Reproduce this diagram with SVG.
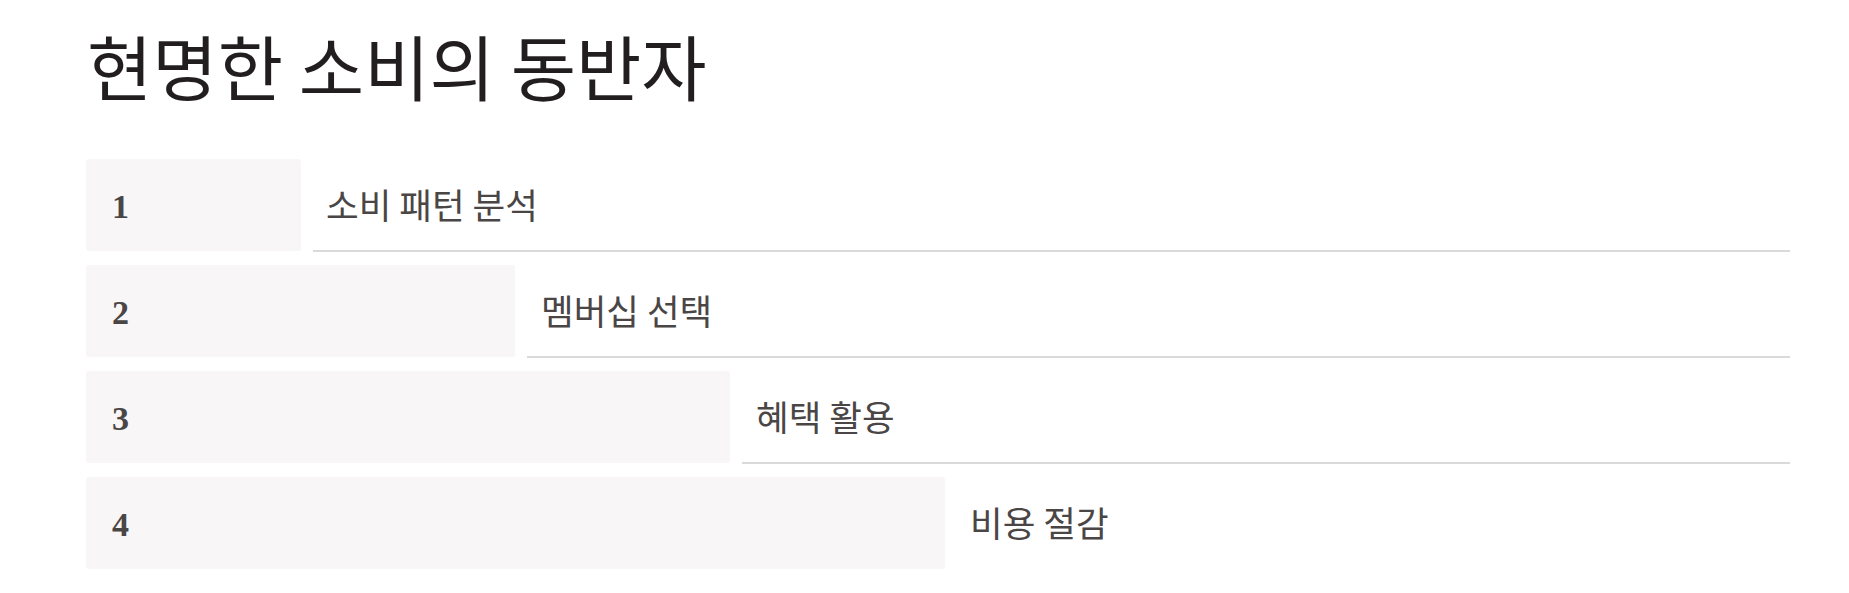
<svg xmlns="http://www.w3.org/2000/svg" width="1849" height="593" viewBox="0 0 1849 593">
  <style>
    .title { font-family: "Noto Sans CJK KR", "Noto Sans", sans-serif; font-size: 71px; font-weight: 400; fill: #221e1f; }
    .box { fill: #f8f6f6; }
    .num { font-family: "Liberation Serif", "DejaVu Serif", serif; font-size: 34px; font-weight: 700; fill: #4b4646; }
    .label { font-family: "Noto Sans CJK KR", "Noto Sans", sans-serif; font-size: 35.5px; font-weight: 400; fill: #4b4646; }
    .rule { stroke: #dadada; stroke-width: 2; }
  </style>
  <rect width="1849" height="593" fill="#ffffff"/>
  <text class="title" x="87" y="95">현명한 소비의 동반자</text>

  <g id="connectors">
    <line class="rule" x1="313" y1="251" x2="1790" y2="251"/>
    <line class="rule" x1="527" y1="357" x2="1790" y2="357"/>
    <line class="rule" x1="742" y1="463" x2="1790" y2="463"/>
  </g>

  <g id="step1">
    <rect class="box" x="86" y="159" width="215" height="92" rx="3"/>
    <text class="num" x="112" y="218">1</text>
    <text class="label" x="326" y="219">소비 패턴 분석</text>
  </g>
  <g id="step2">
    <rect class="box" x="86" y="265" width="429" height="92" rx="3"/>
    <text class="num" x="112" y="324">2</text>
    <text class="label" x="541" y="325">멤버십 선택</text>
  </g>
  <g id="step3">
    <rect class="box" x="86" y="371" width="644" height="92" rx="3"/>
    <text class="num" x="112" y="430">3</text>
    <text class="label" x="756" y="431">혜택 활용</text>
  </g>
  <g id="step4">
    <rect class="box" x="86" y="477" width="859" height="92" rx="3"/>
    <text class="num" x="112" y="536">4</text>
    <text class="label" x="970" y="537">비용 절감</text>
  </g>
</svg>
